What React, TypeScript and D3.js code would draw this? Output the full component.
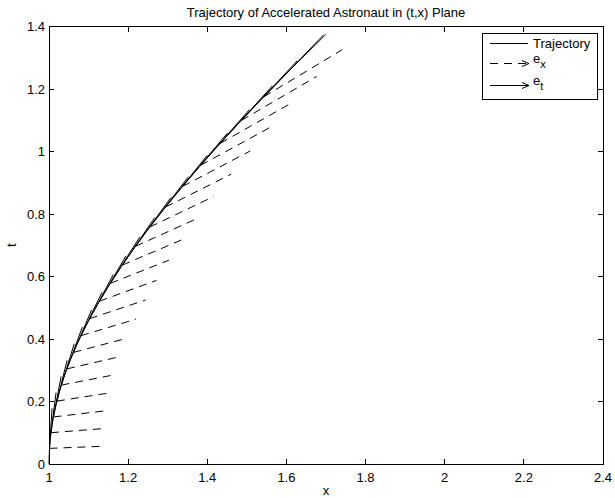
import * as d3 from "d3";

// trajectory of the accelerated astronaut (x, t)
const trajX = [1.0, 1.0013, 1.005, 1.0113, 1.0201, 1.0314, 1.0453, 1.0619, 1.0811, 1.103, 1.1276, 1.1551, 1.1855, 1.2188, 1.2552, 1.2947, 1.3374, 1.3835, 1.4331, 1.4862, 1.5431, 1.6038, 1.6685, 1.7];
const trajT = [0.0, 0.05, 0.1002, 0.1506, 0.2013, 0.2526, 0.3045, 0.3572, 0.4108, 0.4653, 0.5211, 0.5782, 0.6367, 0.6967, 0.7586, 0.8223, 0.8881, 0.9561, 1.0265, 1.0995, 1.1752, 1.2539, 1.3356, 1.375];

// points where the frame vectors are attached
const baseX = [1.0013, 1.005, 1.0113, 1.0201, 1.0314, 1.0453, 1.0619, 1.0811, 1.103, 1.1276, 1.1551, 1.1855, 1.2188, 1.2552, 1.2947, 1.3374, 1.3835, 1.4331, 1.4862, 1.5431];
const baseT = [0.05, 0.1002, 0.1506, 0.2013, 0.2526, 0.3045, 0.3572, 0.4108, 0.4653, 0.5211, 0.5782, 0.6367, 0.6967, 0.7586, 0.8223, 0.8881, 0.9561, 1.0265, 1.0995, 1.1752];

// e_x components (dx, dt)
const exDx = [1.0013, 1.005, 1.0113, 1.0201, 1.0314, 1.0453, 1.0619, 1.0811, 1.103, 1.1276, 1.1551, 1.1855, 1.2188, 1.2552, 1.2947, 1.3374, 1.3835, 1.4331, 1.4862, 1.5431];
const exDt = [0.05, 0.1002, 0.1506, 0.2013, 0.2526, 0.3045, 0.3572, 0.4108, 0.4653, 0.5211, 0.5782, 0.6367, 0.6967, 0.7586, 0.8223, 0.8881, 0.9561, 1.0265, 1.0995, 1.1752];
// e_t components (dx, dt)
const etDx = [0.05, 0.1002, 0.1506, 0.2013, 0.2526, 0.3045, 0.3572, 0.4108, 0.4653, 0.5211, 0.5782, 0.6367, 0.6967, 0.7586, 0.8223, 0.8881, 0.9561, 1.0265, 1.0995, 1.1752];
const etDt = [1.0013, 1.005, 1.0113, 1.0201, 1.0314, 1.0453, 1.0619, 1.0811, 1.103, 1.1276, 1.1551, 1.1855, 1.2188, 1.2552, 1.2947, 1.3374, 1.3835, 1.4331, 1.4862, 1.5431];

const xTicks = [1, 1.2, 1.4, 1.6, 1.8, 2, 2.2, 2.4];
const yTicks = [0, 0.2, 0.4, 0.6, 0.8, 1, 1.2, 1.4];
const legendNames = ["Trajectory", "e", "e"];
const legendSubs = ["", "x", "t"];

const W = 615;
const H = 498;
const margin = { left: 49, right: 12, top: 26.5, bottom: 34 };
const quiverScale = 0.128;
const DASH = "8,6";
const FONT = "'Liberation Sans', Arial, Helvetica, sans-serif";

const x = d3.scaleLinear().domain([1, 2.4]).range([margin.left, W - margin.right]);
const y = d3.scaleLinear().domain([0, 1.4]).range([H - margin.bottom, margin.top]);

function headPath(x1: number, y1: number, x2: number, y2: number, len = 6, half = 2.5) {
  const dx = x2 - x1;
  const dy = y2 - y1;
  const L = Math.hypot(dx, dy) || 1;
  const ux = dx / L, uy = dy / L;
  const nx = -uy, ny = ux;
  const bx = x2 - ux * len, by = y2 - uy * len;
  return `M${bx + nx * half},${by + ny * half}L${x2},${y2}L${bx - nx * half},${by - ny * half}`;
}

// quiver shafts (arrow heads are too small to show in the plot)
function quiver(dxs: number[], dts: number[]) {
  return baseX.map((bx, i) => {
    const x1 = x(bx);
    const y1 = y(baseT[i]);
    const x2 = x(bx + dxs[i] * quiverScale);
    const y2 = y(baseT[i] + dts[i] * quiverScale);
    return `M${x1},${y1}L${x2},${y2}`;
  });
}

export default function App() {
  const left = margin.left;
  const right = W - margin.right;
  const top = margin.top;
  const bottom = H - margin.bottom;

  const line = d3
    .line<number>()
    .x((d) => x(d))
    .y((_, i) => y(trajT[i]))
    .curve(d3.curveCatmullRom);

  const exArrows = quiver(exDx, exDt);
  const etArrows = quiver(etDx, etDt);

  const lgX = 482, lgY = 33, lgW = 115, lgH = 66;
  const rowY = [43.5, 63.5, 85.5];

  return (
    <svg
      width={W}
      height={H}
      style={{ position: "absolute", left: 0, top: 0, background: "#fff" }}
      fontFamily={FONT}
      fontSize={13}
    >
      <rect x={0} y={0} width={W} height={H} fill="#fff" />

      <text x={(left + right) / 2} y={17} textAnchor="middle">
        Trajectory of Accelerated Astronaut in (t,x) Plane
      </text>

      <g fill="none" stroke="#000" strokeWidth={1}>
        <path d={line(trajX) || ""} />
        {etArrows.map((d, i) => (
          <path key={"et" + i} d={d} />
        ))}
        {exArrows.map((d, i) => (
          <path key={"ex" + i} d={d} strokeDasharray={DASH} />
        ))}
      </g>

      <g stroke="#000" strokeWidth={1} shapeRendering="crispEdges">
        <rect x={left} y={top} width={right - left} height={bottom - top} fill="none" />
        {xTicks.map((t) => (
          <g key={"xt" + t}>
            <line x1={x(t)} x2={x(t)} y1={bottom} y2={bottom - 5} />
            <line x1={x(t)} x2={x(t)} y1={top} y2={top + 5} />
          </g>
        ))}
        {yTicks.map((t) => (
          <g key={"yt" + t}>
            <line x1={left} x2={left + 5} y1={y(t)} y2={y(t)} />
            <line x1={right} x2={right - 5} y1={y(t)} y2={y(t)} />
          </g>
        ))}
      </g>

      {xTicks.map((t) => (
        <text key={"xl" + t} x={x(t)} y={bottom + 17.5} textAnchor="middle">
          {String(t)}
        </text>
      ))}
      {yTicks.map((t) => (
        <text key={"yl" + t} x={left - 4} y={y(t) + 4.5} textAnchor="end">
          {String(t)}
        </text>
      ))}

      <text x={(left + right) / 2} y={495} textAnchor="middle">
        x
      </text>
      <text transform={`translate(16,${(top + bottom) / 2}) rotate(-90)`} textAnchor="middle">
        t
      </text>

      <g>
        <rect x={lgX} y={lgY} width={lgW} height={lgH} fill="#fff" stroke="#000" strokeWidth={1} shapeRendering="crispEdges" />
        <g fill="none" stroke="#000" strokeWidth={1}>
          <path d={`M490,${rowY[0]}L528,${rowY[0]}`} />
          <path d={`M490,${rowY[1]}L529,${rowY[1]}`} strokeDasharray={DASH} />
          <path d={headPath(490, rowY[1], 529, rowY[1], 7, 3)} />
          <path d={`M490,${rowY[2]}L529,${rowY[2]}`} />
          <path d={headPath(490, rowY[2], 529, rowY[2], 7, 3)} />
        </g>
        {legendNames.map((n, i) => (
          <text key={"lg" + i} x={533} y={i === 0 ? rowY[0] + 4.5 : rowY[i] - 1}>
            {n}
            {legendSubs[i] ? (
              <tspan fontSize={11} dy={5}>
                {legendSubs[i]}
              </tspan>
            ) : null}
          </text>
        ))}
      </g>
    </svg>
  );
}
